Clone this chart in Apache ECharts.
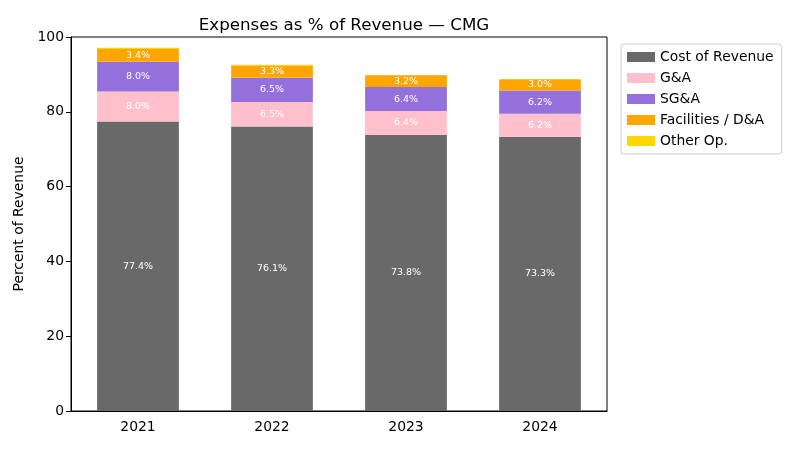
<!DOCTYPE html>
<html>
<head>
<meta charset="utf-8">
<script src="https://cdn.jsdelivr.net/npm/echarts@6/dist/echarts.min.js"></script>
<style>html,body{margin:0;padding:0;background:#fff}#c{width:800px;height:450px}</style>
</head>
<body>
<div id="c"></div>
<script>
const years = ['2021', '2022', '2023', '2024'];
const costOfRevenue = [77.4, 76.1, 73.8, 73.3];
const gAndA = [8.0, 6.5, 6.4, 6.2];
const sgAndA = [8.0, 6.5, 6.4, 6.2];
const facilities = [3.4, 3.3, 3.2, 3.0];
const otherOp = [0.3, 0.2, 0.0, 0.0];
const yTicks = [0, 20, 40, 60, 80, 100];

const font = 'DejaVu Sans';
const chart = echarts.init(document.getElementById('c'));

function mk(name, data, color) {
  return {
    name: name,
    type: 'bar',
    stack: 'total',
    data: data,
    barWidth: '61%',
    itemStyle: { color: color },
    label: {
      show: true,
      position: 'inside',
      color: '#fff',
      fontFamily: font,
      fontSize: 9.5,
      formatter: p => (p.value >= 1 ? p.value.toFixed(1) + '%' : '')
    },
    emphasis: { disabled: true }
  };
}

chart.setOption({
  animation: false,
  textStyle: { fontFamily: font },
  title: {
    text: 'Expenses as % of Revenue — CMG',
    left: 339, top: 12, textAlign: 'center',
    textStyle: { fontFamily: font, fontSize: 16.7, fontWeight: 'normal', color: '#000' }
  },
  grid: {
    left: 71, right: 193, top: 37, bottom: 39,
    show: true, borderColor: '#000', borderWidth: 1, backgroundColor: 'transparent'
  },
  legend: {
    orient: 'vertical',
    left: 621, top: 44,
    itemWidth: 28, itemHeight: 10, itemGap: 7,
    padding: [6, 8, 6, 6],
    borderColor: '#ccc', borderWidth: 1, borderRadius: 3,
    textStyle: { fontFamily: font, fontSize: 13.9, color: '#000', lineHeight: 14 },
    icon: 'rect'
  },
  xAxis: {
    type: 'category',
    data: years,
    axisLine: { lineStyle: { color: '#000' } },
    axisTick: { alignWithLabel: true, length: 5, lineStyle: { color: '#000' } },
    axisLabel: { color: '#000', fontSize: 13.9, fontFamily: font, margin: 9 }
  },
  yAxis: {
    type: 'value',
    min: yTicks[0], max: yTicks[yTicks.length - 1], interval: 20,
    name: 'Percent of Revenue',
    nameLocation: 'middle', nameGap: 42,
    nameTextStyle: { color: '#000', fontSize: 13.9, fontFamily: font },
    splitLine: { show: false },
    axisLine: { show: true, lineStyle: { color: '#000' } },
    axisTick: { show: true, length: 5, lineStyle: { color: '#000' } },
    axisLabel: { color: '#000', fontSize: 13.9, fontFamily: font, margin: 7 }
  },
  series: [
    mk('Cost of Revenue', costOfRevenue, '#696969'),
    mk('G&A', gAndA, '#FFC0CB'),
    mk('SG&A', sgAndA, '#9370DB'),
    mk('Facilities / D&A', facilities, '#FFA500'),
    mk('Other Op.', otherOp, '#FFD700')
  ]
});
</script>
</body>
</html>
